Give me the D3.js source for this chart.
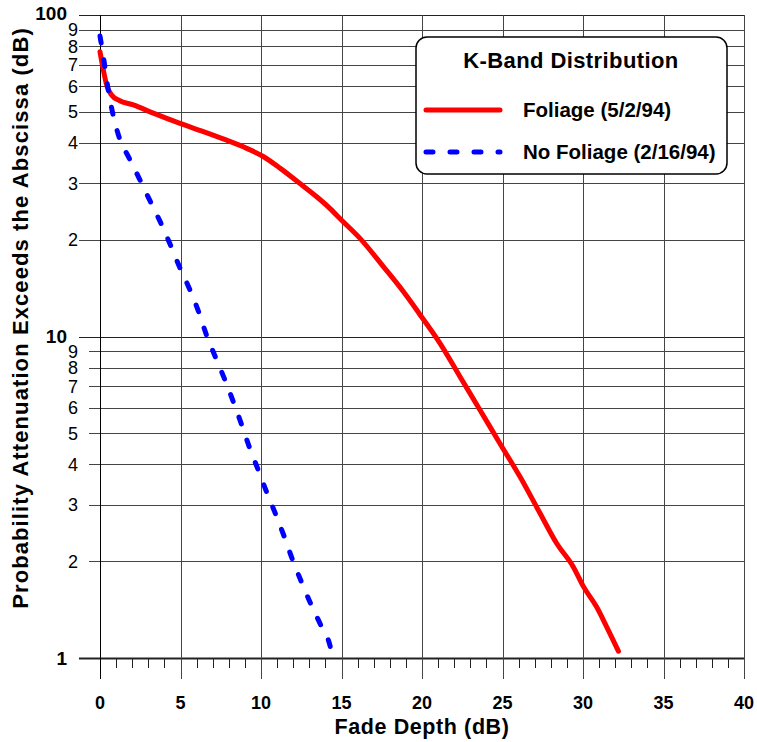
<!DOCTYPE html>
<html>
<head>
<meta charset="utf-8">
<script src="https://cdn.jsdelivr.net/npm/d3@7"></script>
<style>
  body { margin: 0; background: #fff; }
  text { font-family: "Liberation Sans", Arial, sans-serif; }
</style>
</head>
<body>
<svg id="chart" width="757" height="742"></svg>
<script>
// fade depth (dB) vs probability (%)
const foliageX = [0, 0.21, 0.41, 0.72, 1.2, 2.07, 3.31, 4.97, 6.42, 7.87, 8.9, 10.14, 11.18, 12.42, 13.46, 14.29, 15.01, 16.15, 17.6, 18.84, 19.98, 21.12, 22.36, 23.6, 24.84, 26.09, 27.33, 28.37, 29.4, 30.02, 30.85, 31.47, 32.2];
const foliageY = [76.9, 67.4, 60.6, 56.4, 54.2, 52.5, 49.5, 46.0, 43.4, 40.8, 38.9, 36.3, 33.4, 29.9, 27.2, 25.0, 23.0, 20.2, 16.5, 13.8, 11.5, 9.52, 7.5, 5.91, 4.65, 3.66, 2.82, 2.27, 1.92, 1.67, 1.44, 1.25, 1.05];

const noFoliageX = [0, 0.27, 0.48, 0.77, 1.14, 1.82, 2.44, 3.11, 3.73, 4.35, 4.93, 5.55, 6.11, 6.63, 7.14, 7.72, 8.28, 8.8, 9.27, 9.83, 10.35, 10.91, 11.45, 11.96, 12.52, 13.1, 13.73, 14.33, 14.45];
const noFoliageY = [86, 70.8, 59.8, 50.0, 42.4, 35.8, 31.0, 26.4, 22.8, 19.4, 16.5, 14.1, 12.0, 10.05, 8.7, 7.41, 6.27, 5.31, 4.54, 3.84, 3.28, 2.8, 2.38, 2.02, 1.72, 1.47, 1.26, 1.07, 1.0];

const xTicks = [0, 5, 10, 15, 20, 25, 30, 35, 40];
const xMinorTicks = d3.range(0, 41, 1);
const yMajorTicks = [1, 10, 100];
const yMinorTicks = [2, 3, 4, 5, 6, 7, 8, 9, 20, 30, 40, 50, 60, 70, 80, 90];
const yMinorLabels = ['2', '3', '4', '5', '6', '7', '8', '9', '2', '3', '4', '5', '6', '7', '8', '9'];

const legendTitle = 'K-Band Distribution';
const seriesNames = ['Foliage (5/2/94)', 'No Foliage (2/16/94)'];
const seriesColors = ['#ff0000', '#0000ff'];

const width = 757, height = 742;
const margin = { left: 100, right: 13, top: 15, bottom: 84 };
const innerWidth = width - margin.left - margin.right;
const innerHeight = height - margin.top - margin.bottom;

const svg = d3.select('#chart');
const g = svg.append('g').attr('transform', `translate(${margin.left},${margin.top})`);

const xScale = d3.scaleLinear().domain([0, 40]).range([0, innerWidth]);
const yScale = d3.scaleLog().domain([1, 100]).range([innerHeight, 0]);

const crisp = v => Math.round(v) + 0.5;

// horizontal grid
g.selectAll('.hminor').data(yMinorTicks).enter()
  .append('line')
    .attr('class', 'hminor')
    .attr('x1', d => d > 10 ? -21 : -11)
    .attr('x2', innerWidth)
    .attr('y1', d => crisp(yScale(d)))
    .attr('y2', d => crisp(yScale(d)))
    .attr('stroke', '#444')
    .attr('stroke-width', 1);

g.selectAll('.hmajor').data(yMajorTicks).enter()
  .append('line')
    .attr('class', 'hmajor')
    .attr('x1', -21)
    .attr('x2', innerWidth)
    .attr('y1', d => crisp(yScale(d)))
    .attr('y2', d => crisp(yScale(d)))
    .attr('stroke', '#222')
    .attr('stroke-width', d => d === 1 ? 2 : 1);

// vertical grid + major ticks below
g.selectAll('.vgrid').data(xTicks).enter()
  .append('line')
    .attr('class', 'vgrid')
    .attr('x1', d => crisp(xScale(d)))
    .attr('x2', d => crisp(xScale(d)))
    .attr('y1', 0)
    .attr('y2', innerHeight + 21)
    .attr('stroke', d => d === 0 ? '#000' : '#444')
    .attr('stroke-width', 1);

g.selectAll('.xminor').data(xMinorTicks.filter(d => d % 5 !== 0)).enter()
  .append('line')
    .attr('class', 'xminor')
    .attr('x1', d => crisp(xScale(d)))
    .attr('x2', d => crisp(xScale(d)))
    .attr('y1', innerHeight)
    .attr('y2', innerHeight + 10)
    .attr('stroke', '#222')
    .attr('stroke-width', 1);

// tick labels
g.selectAll('.xlabel').data(xTicks).enter()
  .append('text')
    .attr('class', 'xlabel')
    .attr('x', d => xScale(d))
    .attr('y', innerHeight + 51)
    .attr('text-anchor', 'middle')
    .attr('font-size', 18)
    .attr('font-weight', 'bold')
    .text(d => d);

g.selectAll('.ymajorlabel').data(yMajorTicks).enter()
  .append('text')
    .attr('class', 'ymajorlabel')
    .attr('x', -33)
    .attr('y', d => yScale(d) - (d === 100 ? 2 : 0))
    .attr('dy', '0.36em')
    .attr('text-anchor', 'end')
    .attr('font-size', 19)
    .attr('font-weight', 'bold')
    .text(d => d);

g.selectAll('.yminorlabel').data(yMinorTicks).enter()
  .append('text')
    .attr('class', 'yminorlabel')
    .attr('x', -22)
    .attr('y', d => yScale(d))
    .attr('dy', '0.36em')
    .attr('text-anchor', 'end')
    .attr('font-size', 18)
    .text((d, i) => yMinorLabels[i]);

// axis titles
svg.append('text')
  .attr('x', margin.left + innerWidth / 2)
  .attr('y', 734)
  .attr('text-anchor', 'middle')
  .attr('font-size', 21.5)
  .attr('font-weight', 'bold')
  .attr('letter-spacing', 0.6)
  .text('Fade Depth (dB)');

svg.append('text')
  .attr('transform', `translate(28, 318) rotate(-90)`)
  .attr('text-anchor', 'middle')
  .attr('font-size', 22)
  .attr('font-weight', 'bold')
  .attr('letter-spacing', 1.1)
  .text('Probability Attenuation Exceeds the Abscissa (dB)');

// curves
const line = d3.line()
  .x(d => xScale(d[0]))
  .y(d => yScale(d[1]))
  .curve(d3.curveMonotoneX);

const foliage = foliageX.map((x, i) => [x, foliageY[i]]);
const noFoliage = noFoliageX.map((x, i) => [x, noFoliageY[i]]);

g.append('path')
  .datum(foliage)
  .attr('d', line)
  .attr('fill', 'none')
  .attr('stroke', seriesColors[0])
  .attr('stroke-width', 5)
  .attr('stroke-linejoin', 'round')
  .attr('stroke-linecap', 'round');

g.append('path')
  .datum(noFoliage)
  .attr('d', line)
  .attr('fill', 'none')
  .attr('stroke', seriesColors[1])
  .attr('stroke-width', 5)
  .attr('stroke-dasharray', '7,17')
  .attr('stroke-linecap', 'round');

// legend
const legend = svg.append('g').attr('transform', 'translate(416,37)');
legend.append('rect')
  .attr('width', 311)
  .attr('height', 137)
  .attr('rx', 11)
  .attr('fill', '#fff')
  .attr('stroke', '#000')
  .attr('stroke-width', 1.5);

legend.append('text')
  .attr('x', 155)
  .attr('y', 31)
  .attr('text-anchor', 'middle')
  .attr('font-size', 22)
  .attr('font-weight', 'bold')
  .attr('letter-spacing', 0.4)
  .text(legendTitle);

seriesNames.forEach((name, i) => {
  const y = 73 + i * 42;
  legend.append('line')
    .attr('x1', 10).attr('x2', 84)
    .attr('y1', y).attr('y2', y)
    .attr('stroke', seriesColors[i])
    .attr('stroke-width', 5)
    .attr('stroke-linecap', 'round')
    .attr('stroke-dasharray', i === 1 ? '7,17' : null);
  legend.append('text')
    .attr('x', 107)
    .attr('y', y)
    .attr('dy', '0.36em')
    .attr('font-size', 20.5)
    .attr('font-weight', 'bold')
    .text(name);
});
</script>
</body>
</html>
